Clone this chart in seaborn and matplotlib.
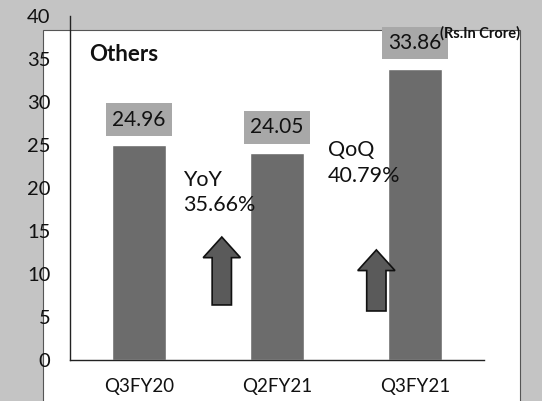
import matplotlib
matplotlib.use("Agg")
import matplotlib.pyplot as plt
import matplotlib.patches as mpatches
import seaborn as sns
import pandas as pd

quarters = ["Q3FY20", "Q2FY21", "Q3FY21"]
values = [24.96, 24.05, 33.86]
growth_labels = ["YoY\n35.66%", "QoQ\n40.79%"]
unit_note = "(Rs.In Crore)"
title = "Others"

sns.set_style("white")
plt.rcParams['font.family'] = ['Lato', 'DejaVu Sans']

fig = plt.figure(figsize=(5.42, 4.01), dpi=100, facecolor="#c4c4c4")
# white panel behind the chart
bg = fig.add_axes([0, 0, 1, 1], zorder=0)
bg.set_axis_off()
bg.set_xlim(0, 542)
bg.set_ylim(401, 0)
bg.add_patch(mpatches.Rectangle((43, 30), 520 - 43, 380, facecolor="white",
                                edgecolor="#555555", linewidth=0.8))

ax = fig.add_axes([70 / 542, 1 - 360 / 401, (484 - 70) / 542, (360 - 16) / 401], zorder=1)
ax.patch.set_alpha(0)

df = pd.DataFrame({"quarter": quarters, "value": values})
sns.barplot(data=df, x="quarter", y="value", color="#6c6c6c", saturation=1,
            width=0.39, ax=ax)

ax.set_xlim(-0.5, 2.5)
ax.set_ylim(0, 40)
ax.set_yticks(range(0, 41, 5))
ax.set_xlabel("")
ax.set_ylabel("")
sns.despine(ax=ax)
for s in ["left", "bottom"]:
    ax.spines[s].set_color("#222222")
    ax.spines[s].set_linewidth(1.0)
ax.set_xticks([0.5, 1.5, 2.5], minor=True)
ax.tick_params(axis="x", which="major", length=0, labelsize=13.5, pad=13, labelcolor="#111111")
ax.tick_params(axis="x", which="minor", length=5, direction="out", color="#222222")
ax.tick_params(axis="y", length=5, direction="out", labelsize=14.5, color="#222222", pad=9,
               labelcolor="#111111")

# value labels in grey boxes
for i, v in enumerate(values):
    ax.text(i, v + 3.0, f"{v:.2f}", ha="center", va="center", fontsize=15, color="#111111",
            bbox=dict(boxstyle="square,pad=0.3", facecolor="#a8a8a8", edgecolor="none"))

ax.text(-0.36, 35.5, title, fontsize=16, fontweight="bold", va="center", color="#111111")
ax.text(2.47, 38.0, unit_note, fontsize=10.5, fontweight="bold", ha="center", va="center",
        color="#111111")

# growth text and arrows
ax.text(0.32, 19.5, growth_labels[0], fontsize=15.5, va="center", linespacing=1.35,
        color="#111111")
ax.text(1.37, 22.9, growth_labels[1], fontsize=15.5, va="center", linespacing=1.35,
        color="#111111")
for x, y0, y1 in [(0.6, 6.4, 14.3), (1.72, 5.7, 12.8)]:
    ax.add_patch(mpatches.FancyArrow(x, y0, 0, y1 - y0, width=0.14, head_width=0.27,
                                     head_length=2.4, length_includes_head=True,
                                     facecolor="#5a5a5a", edgecolor="#111111",
                                     linewidth=1.2))

fig.savefig("out.png", dpi=100, facecolor=fig.get_facecolor())
